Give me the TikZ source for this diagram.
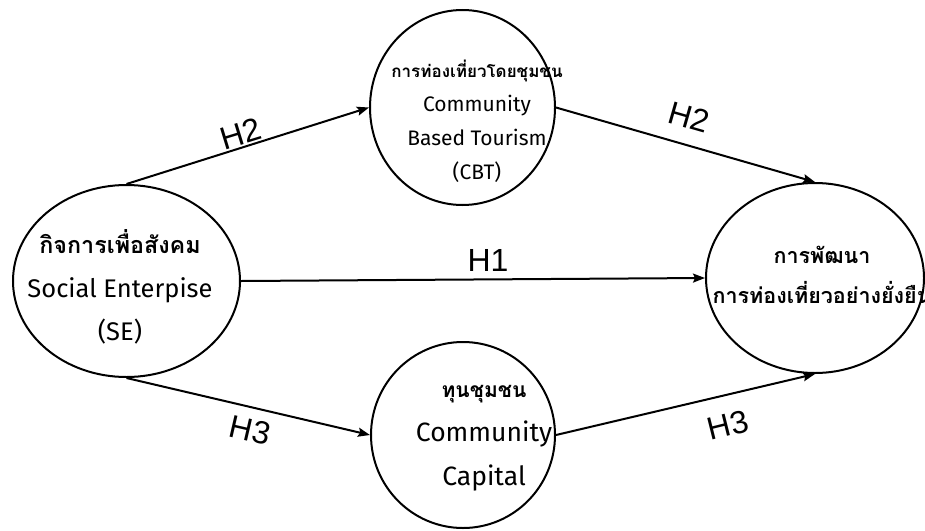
\documentclass[tikz,border=0pt]{standalone}
\usepackage{fontspec}
\setmainfont{Liberation Sans}
\newfontfamily\thaifont[Script=Thai]{Loma}
\newfontfamily\latinfont{Fira Sans}
\usetikzlibrary{shapes.geometric,arrows.meta}

% Thai heading line at a given size
\newcommand\thailine[2]{{\thaifont\bfseries\fontsize{#1}{#1}\selectfont #2}}

\begin{document}
\begin{tikzpicture}[x=1pt,y=-1pt,
  construct/.style={draw, ellipse, line width=2pt, inner sep=0pt},
  bigtext/.style={align=center, font=\latinfont\fontsize{25.5}{43.5}\selectfont},
  smalltext/.style={align=center, font=\latinfont\fontsize{21}{34}\selectfont},
  link/.style={line width=2pt, -{Stealth[length=12pt,width=9pt,inset=2pt]}},
  hyp/.style={font=\fontsize{32}{32}\selectfont, inner sep=0pt}
]
\useasboundingbox (0,0) rectangle (925,530);

% constructs
\node[construct, minimum width=227pt, minimum height=192pt] (se)  at (126.5,281) {};
\node[construct, minimum width=185pt, minimum height=195pt] (cbt) at (462.5,107.5) {};
\node[construct, minimum width=184pt, minimum height=186pt] (cap) at (463,435) {};
\node[construct, minimum width=218pt, minimum height=190pt] (sdt) at (815,278) {};

% labels inside the constructs
\node[bigtext] (se-t) at (120,287) {\thailine{23.3}{กิจการเพื่อสังคม}\\Social Enterpise\\(SE)};
\node[smalltext] (cbt-t) at (477,121) {\thailine{17}{การท่องเที่ยวโดยชุมชน}\\Community\\Based Tourism\\(CBT)};
\node[bigtext, font=\latinfont\fontsize{26.5}{44}\selectfont] (cap-t) at (484,438) {\thailine{21}{ทุนชุมชน}\\Community\\Capital};
\node[bigtext, font=\latinfont\fontsize{24}{40}\selectfont] (sdt-t) at (822,275) {\thailine{21.5}{การพัฒนา}\\\thailine{21.5}{การท่องเที่ยวอย่างยั่งยืน}};

% hypothesised paths
\draw[link] (se.north) -- (cbt.west);
\draw[link] (cbt.east) -- (sdt.north);
\draw[link] (se.east) -- (sdt.west);
\draw[link] (se.south) -- (cap.west);
\draw[link] (cap.east) -- (sdt.south);

% path labels
\node[hyp, rotate=17] (h2a) at (241,134) {H2};
\node[hyp, rotate=-16] (h2b) at (689,117) {H2};
\node[hyp] (h1) at (488,260) {H1};
\node[hyp, rotate=-13] (h3a) at (250,430) {H3};
\node[hyp, rotate=14] (h3b) at (728,425) {H3};
\end{tikzpicture}
\end{document}
